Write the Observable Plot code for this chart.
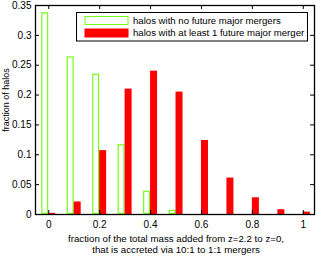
<!DOCTYPE html>
<html><head><meta charset="utf-8">
<script src="https://cdn.jsdelivr.net/npm/d3@7"></script>
<script src="https://cdn.jsdelivr.net/npm/@observablehq/plot@0.6"></script>
<style>
body{margin:0;background:#fff;}
svg{font-family:"Liberation Sans",Arial,sans-serif;}
</style>
</head><body><div id="chart"></div>
<script>
const binCenters = [0, 0.1, 0.2, 0.3, 0.4, 0.5, 0.6, 0.7, 0.8, 0.9, 1.0];
const noMergers = [0.338, 0.264, 0.235, 0.117, 0.039, 0.007, 0.001, 0, 0, 0, 0];
const withMergers = [0.002, 0.021, 0.107, 0.210, 0.240, 0.205, 0.124, 0.061, 0.028, 0.008, 0.004];
const xTicks = [0, 0.2, 0.4, 0.6, 0.8, 1];
const yTicks = [0, 0.05, 0.1, 0.15, 0.2, 0.25, 0.3, 0.35];
const seriesNames = ["halos with no future major mergers", "halos with at least 1 future major merger"];
const green = "#74ff1a", red = "#ff0000";

const W = 316, H = 257, mL = 35, mR = 2, mT = 5, mB = 43;
const barW = 0.0275;
const greenData = binCenters.map((c, i) => ({c, v: noMergers[i]}));
const redData = binCenters.map((c, i) => ({c, v: withMergers[i]}));

const plot = Plot.plot({
  width: W, height: H,
  marginLeft: mL, marginRight: mR, marginTop: mT, marginBottom: mB,
  style: {fontFamily: '"Liberation Sans", Arial, sans-serif', fontSize: "10px", background: "white"},
  x: {domain: [-0.052, 1.044]},
  y: {domain: [0, 0.35]},
  marks: [
    Plot.rectY(greenData, {x1: d => d.c - barW, x2: d => d.c, y: "v", fill: "white", stroke: green, strokeWidth: 1.2, inset: 0.6}),
    Plot.rectY(redData.filter(d => d.v > 0), {x1: d => d.c, x2: d => d.c + barW, y: "v", fill: red, inset: 0}),
    Plot.axisX(xTicks, {anchor: "bottom", tickSize: 0, tickPadding: 6, tickFormat: d => String(d), fill: "black", fontSize: 10}),
    Plot.axisY(yTicks, {anchor: "left", tickSize: 0, tickPadding: 4, tickFormat: d => String(d), fill: "black", fontSize: 10, label: null}),
    Plot.tickX(xTicks, {x: d => d, stroke: "black", insetTop: H - mT - mB - 4}),
    Plot.tickX(xTicks, {x: d => d, stroke: "black", insetBottom: H - mT - mB - 4}),
    Plot.tickY(yTicks, {y: d => d, stroke: "black", insetRight: W - mL - mR - 4}),
    Plot.tickY(yTicks, {y: d => d, stroke: "black", insetLeft: W - mL - mR - 4}),
    Plot.frame({stroke: "black", strokeWidth: 1.3})
  ]
});

const svg = d3.select(plot);
// axis labels
const cy = 100;
svg.append("text").attr("x", 7).attr("y", cy)
  .attr("transform", `rotate(-90, 7, ${cy})`)
  .attr("text-anchor", "middle").attr("dominant-baseline", "middle")
  .attr("font-size", 9).attr("fill", "black").text("fraction of halos");
const xl = svg.append("text").attr("text-anchor", "middle").attr("font-size", 9.7).attr("fill", "black");
xl.append("tspan").attr("x", 176).attr("y", 241.5).text("fraction of the total mass added from z=2.2 to z=0,");
xl.append("tspan").attr("x", 176).attr("y", 253).text("that is accreted via 10:1 to 1:1 mergers");

// legend
const lg = svg.append("g");
lg.append("rect").attr("x", 76.5).attr("y", 12.5).attr("width", 231).attr("height", 28.5)
  .attr("fill", "white").attr("stroke", "black").attr("stroke-width", 1);
const sw = [{fill: "white", stroke: green, y: 16.5}, {fill: red, stroke: red, y: 29}];
sw.forEach((s, i) => {
  lg.append("rect").attr("x", 85).attr("y", s.y).attr("width", 43).attr("height", 8)
    .attr("fill", s.fill).attr("stroke", s.stroke).attr("stroke-width", 1);
  lg.append("text").attr("x", 133).attr("y", s.y + 4.5).attr("dominant-baseline", "middle")
    .attr("text-anchor", "start")
    .attr("font-size", 9.6).attr("fill", "black").text(seriesNames[i]);
});

document.getElementById("chart").appendChild(plot);
</script>
</body></html>
